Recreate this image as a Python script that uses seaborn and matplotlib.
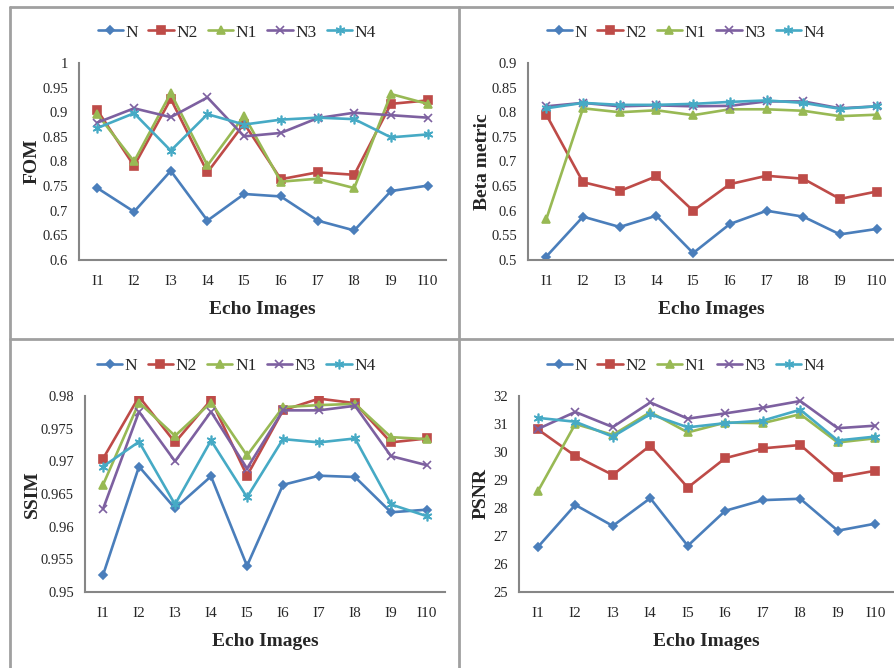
import numpy as np
import pandas as pd
import matplotlib
matplotlib.use("Agg")
import matplotlib.pyplot as plt
from matplotlib.lines import Line2D
import seaborn as sns

images = ['I1', 'I2', 'I3', 'I4', 'I5', 'I6', 'I7', 'I8', 'I9', 'I10']
series_names = ['N', 'N2', 'N1', 'N3', 'N4']

fom_n = [0.746, 0.698, 0.781, 0.680, 0.734, 0.729, 0.680, 0.660, 0.740, 0.751]
fom_n2 = [0.904, 0.791, 0.927, 0.778, 0.877, 0.764, 0.778, 0.773, 0.917, 0.924]
fom_n1 = [0.896, 0.800, 0.939, 0.792, 0.893, 0.759, 0.765, 0.746, 0.937, 0.917]
fom_n3 = [0.879, 0.908, 0.890, 0.930, 0.851, 0.858, 0.888, 0.899, 0.894, 0.889]
fom_n4 = [0.868, 0.898, 0.822, 0.896, 0.875, 0.885, 0.889, 0.886, 0.849, 0.855]

beta_n = [0.507, 0.588, 0.567, 0.590, 0.514, 0.573, 0.600, 0.588, 0.552, 0.563]
beta_n2 = [0.795, 0.658, 0.640, 0.670, 0.600, 0.654, 0.671, 0.665, 0.624, 0.639]
beta_n1 = [0.583, 0.808, 0.800, 0.804, 0.794, 0.806, 0.806, 0.803, 0.792, 0.795]
beta_n3 = [0.812, 0.819, 0.812, 0.814, 0.812, 0.813, 0.822, 0.822, 0.808, 0.812]
beta_n4 = [0.808, 0.819, 0.815, 0.815, 0.817, 0.821, 0.824, 0.819, 0.807, 0.812]

ssim_n = [0.9526, 0.9692, 0.9628, 0.9677, 0.9540, 0.9664, 0.9678, 0.9676, 0.9622, 0.9626]
ssim_n2 = [0.9704, 0.9799, 0.9729, 0.9794, 0.9678, 0.9778, 0.9796, 0.9789, 0.9729, 0.9735]
ssim_n1 = [0.9664, 0.9790, 0.9739, 0.9790, 0.9709, 0.9783, 0.9786, 0.9788, 0.9737, 0.9734]
ssim_n3 = [0.9627, 0.9776, 0.9700, 0.9776, 0.9689, 0.9778, 0.9778, 0.9785, 0.9708, 0.9694]
ssim_n4 = [0.9692, 0.9730, 0.9634, 0.9732, 0.9645, 0.9734, 0.9729, 0.9735, 0.9634, 0.9616]

psnr_n = [26.60, 28.11, 27.36, 28.35, 26.65, 27.90, 28.28, 28.33, 27.19, 27.44]
psnr_n2 = [30.81, 29.86, 29.18, 30.23, 28.73, 29.78, 30.13, 30.25, 29.09, 29.33]
psnr_n1 = [28.59, 31.00, 30.61, 31.42, 30.70, 31.05, 31.03, 31.35, 30.34, 30.49]
psnr_n3 = [30.82, 31.43, 30.89, 31.77, 31.19, 31.38, 31.58, 31.82, 30.85, 30.94]
psnr_n4 = [31.22, 31.08, 30.55, 31.35, 30.88, 31.03, 31.12, 31.51, 30.41, 30.55]

colors = {'N': '#4A7EBB', 'N2': '#BE4B48', 'N1': '#98B954', 'N3': '#7D60A0', 'N4': '#46AAC5'}
markers = {'N': 'D', 'N2': 's', 'N1': '^', 'N3': 'x', 'N4': (6, 2, 0)}
msizes = {'N': 4, 'N2': 5.5, 'N1': 6, 'N3': 6, 'N4': 7}

# (ylabel, series, y ticks, axes rect, legend x, ylabel x) -- positions in figure / axes fractions
panels = [
    ('FOM', [fom_n, fom_n2, fom_n1, fom_n3, fom_n4], np.arange(0.6, 1.0001, 0.05),
     [0.0883, 0.6108, 0.4100, 0.2949], 0.43, -0.128),
    ('Beta metric', [beta_n, beta_n2, beta_n1, beta_n3, beta_n4], np.arange(0.5, 0.9001, 0.05),
     [0.5899, 0.6108, 0.4101, 0.2949], 0.43, -0.125),
    ('SSIM', [ssim_n, ssim_n2, ssim_n1, ssim_n3, ssim_n4], np.arange(0.95, 0.98001, 0.005),
     [0.0950, 0.1138, 0.4022, 0.2934], 0.42, -0.147),
    ('PSNR', [psnr_n, psnr_n2, psnr_n1, psnr_n3, psnr_n4], np.arange(25, 32.001, 1),
     [0.5799, 0.1138, 0.4190, 0.2934], 0.445, -0.10),
]

sns.set_style("white")
plt.rcParams['font.family'] = ['Liberation Serif', 'DejaVu Serif']
axis_gray = '#868686'

fig = plt.figure(figsize=(8.95, 6.68), dpi=100)

for ylabel, values, yticks, rect, lx, ylx in panels:
    ax = fig.add_axes(rect)
    df = pd.DataFrame({'image': np.tile(images, len(series_names)),
                       'value': np.concatenate(values),
                       'series': np.repeat(series_names, len(images))})
    for name in series_names:
        sub = df[df['series'] == name]
        sns.lineplot(data=sub, x='image', y='value', ax=ax, color=colors[name],
                     marker=markers[name], markersize=msizes[name], linewidth=1.9,
                     markeredgecolor=colors[name], markeredgewidth=1.2,
                     label=name, sort=False)

    ax.set_xlim(-0.5, len(images) - 0.5)
    ax.set_ylim(yticks[0], yticks[-1])
    ax.set_yticks(yticks)
    ax.set_yticklabels([f'{v:g}' for v in np.round(yticks, 4)], fontsize=10.5)
    ax.set_xticks(range(len(images)))
    ax.set_xticklabels(images, fontsize=11)
    ax.set_xticks(np.arange(-0.5, len(images)), minor=True)
    ax.tick_params(axis='x', which='major', length=0, pad=11)
    ax.tick_params(axis='x', which='minor', length=5, width=1.5, color=axis_gray, direction='out')
    ax.tick_params(axis='y', which='major', length=5, width=1.5, color=axis_gray, direction='out', pad=3)
    sns.despine(ax=ax)
    for side in ['left', 'bottom']:
        ax.spines[side].set_color(axis_gray)
        ax.spines[side].set_linewidth(1.5)

    ax.set_xlabel('Echo Images', fontsize=14, fontweight='bold', labelpad=9)
    ax.set_ylabel(ylabel, fontsize=14, fontweight='bold', va='center')
    ax.yaxis.set_label_coords(ylx, 0.5)

    ax.legend(loc='center', bbox_to_anchor=(lx, 1.155), ncol=5, frameon=False,
              fontsize=12.5, handlelength=1.45, handletextpad=0.15, columnspacing=0.6,
              borderaxespad=0)

# panel frame lines
frame_kw = dict(color='#A0A0A0', linewidth=2, transform=fig.transFigure)
fig.add_artist(Line2D([10 / 895, 10 / 895], [0, 1 - 7 / 668], **frame_kw))
fig.add_artist(Line2D([10 / 895, 1], [1 - 7 / 668, 1 - 7 / 668], **frame_kw))
fig.add_artist(Line2D([459 / 895, 459 / 895], [0, 1 - 7 / 668], **frame_kw))
fig.add_artist(Line2D([10 / 895, 1], [1 - 339 / 668, 1 - 339 / 668], **frame_kw))

plt.savefig('out.png', dpi=100)
plt.close()
